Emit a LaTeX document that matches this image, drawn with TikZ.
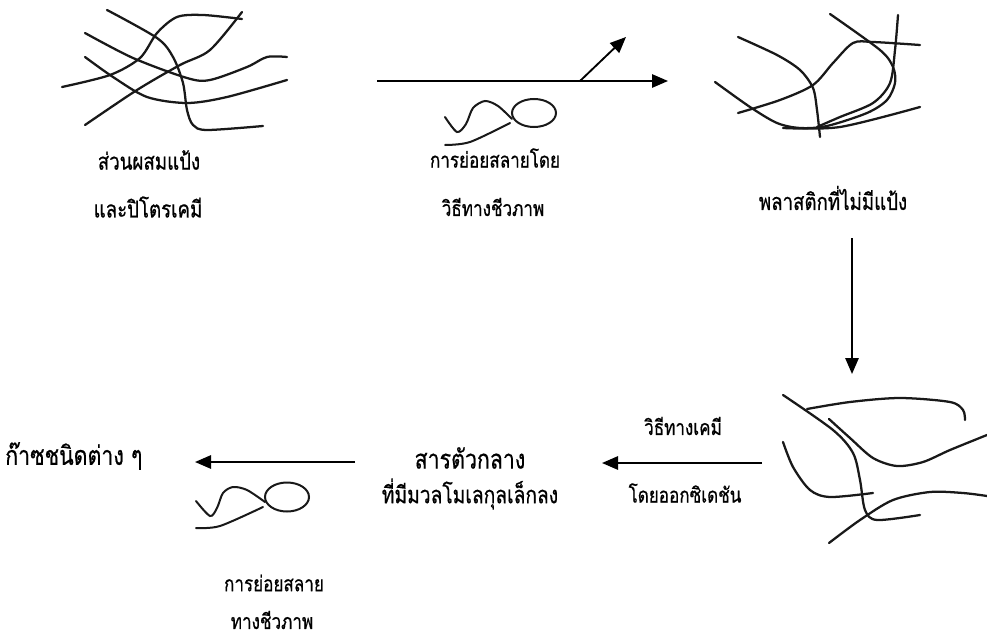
\documentclass[tikz,border=0pt]{standalone}
\usepackage{fontspec}
\newfontfamily\thaifont[Script=Thai,FakeStretch=0.8,FakeBold=0.6]{Loma}
\usetikzlibrary{arrows.meta}
\tikzset{
  fiber/.style={line width=1.7pt, line cap=round, black!90},
  microbe/.style={fiber, line width=1.5pt},
  flow/.style={line width=1.4pt, -{Triangle[length=12pt,width=10pt]}},
  lbl/.style={font=\thaifont\fontsize{16}{18}\selectfont, inner sep=0pt, anchor=center},
  midlbl/.style={font=\thaifont\fontsize{17.5}{20}\selectfont, inner sep=0pt, anchor=center},
  biglbl/.style={font=\thaifont\fontsize{20}{22}\selectfont, inner sep=0pt, anchor=center}
}
\begin{document}
\begin{tikzpicture}[x=0.75pt,y=-0.75pt]
\useasboundingbox (0,0) rectangle (987,638);
\fill[white] (0,0) rectangle (987,638);

% ---- starch + petrochemical blend (tangled chains)
\draw[fiber] plot[smooth] coordinates {(107,10) (157,38) (173,57) (183,83) (187,110) (193,125) (207,130) (263,126)};
\draw[fiber] plot[smooth] coordinates {(62,87) (110,75) (140,58) (157,33) (177,17) (203,15) (242,19)};
\draw[fiber] plot[smooth] coordinates {(85,125) (137,90) (180,65) (210,50) (242,12)};
\draw[fiber] plot[smooth] coordinates {(85,33) (133,58) (187,78) (210,80) (247,67) (267,57) (287,57)};
\draw[fiber] plot[smooth] coordinates {(85,57) (113,77) (147,97) (187,103) (227,97) (287,80)};

% ---- plastic without starch
\draw[fiber] plot[smooth] coordinates {(738,37) (777,55) (800,70) (813,88) (817,110) (820,137)};
\draw[fiber] plot[smooth] coordinates {(715,82) (750,107) (777,123) (800,128) (827,126) (867,113) (887,100) (895,83) (893,67) (880,50) (830,14)};
\draw[fiber] plot[smooth] coordinates {(738,113) (780,100) (813,85) (833,63) (853,43) (873,42) (920,45)};
\draw[fiber] plot[smooth] coordinates {(898,15) (895,50) (890,83) (873,103) (840,117) (817,127)};
\draw[fiber] plot[smooth] coordinates {(783,128) (840,127) (920,107)};

% ---- oxidised chains
\draw[fiber] plot[smooth] coordinates {(783,395) (833,430) (853,453) (860,480) (865,510) (877,520) (920,515)};
\draw[fiber] plot[smooth] coordinates {(807,409) (850,402) (900,398) (950,402) (963,410) (965,420)};
\draw[fiber] plot[smooth] coordinates {(829,419) (850,438) (873,458) (897,466) (923,462) (950,450) (987,435)};
\draw[fiber] plot[smooth] coordinates {(783,442) (793,467) (810,490) (830,497) (873,493)};
\draw[fiber] plot[smooth] coordinates {(829,543) (860,520) (893,500) (930,492) (963,493) (987,496)};

% ---- microbe symbols
\draw[microbe] plot[smooth] coordinates {(445,117) (457,132) (466,124) (473,108) (485,101) (498,106) (512,119)};
\draw[microbe] (534,113) ellipse [x radius=22, y radius=14];
\draw[microbe] plot[smooth] coordinates {(510,123) (470,142) (445,145)};

\draw[microbe] plot[smooth] coordinates {(196,501) (210,516) (217,508) (223,493) (233,487) (247,490) (265,502)};
\draw[microbe] (287,497) ellipse [x radius=22, y radius=14.5];
\draw[microbe] plot[smooth] coordinates {(263,507) (220,526) (196,528)};

% ---- arrow end points
\coordinate (a1s) at (377,81);
\coordinate (a1e) at (668,81);
\coordinate (a1b) at (580,81);
\coordinate (a1g) at (626,37);
\coordinate (a2s) at (852,238);
\coordinate (a2e) at (852,374);
\coordinate (a3s) at (762,463);
\coordinate (a3e) at (602,463);
\coordinate (a4s) at (355,462);
\coordinate (a4e) at (195,462);

\draw[flow] (a1s) -- (a1e);
\draw[flow] (a1b) -- (a1g);
\draw[flow] (a2s) -- (a2e);
\draw[flow] (a3s) -- (a3e);
\draw[flow] (a4s) -- (a4e);

% ---- labels
\node[midlbl] (t1a) at (149,160) {ส่วนผสมแป้ง};
\node[midlbl] (t1b) at (148,207) {และปิโตรเคมี};
\node[lbl] (t2a) at (495,158) {การย่อยสลายโดย};
\node[lbl] (t2b) at (493,207) {วิธีทางชีวภาพ};
\node[midlbl] (t3) at (833,198) {พลาสติกที่ไม่มีแป้ง};
\node[lbl] (t4a) at (683,426) {วิธีทางเคมี};
\node[lbl] (t4b) at (685,493) {โดยออกซิเดชัน};
\node[biglbl] (t5a) at (470,458) {สารตัวกลาง};
\node[biglbl, font=\thaifont\fontsize{18}{20}\selectfont] (t5b) at (470,494) {ที่มีมวลโมเลกุลเล็กลง};
\node[biglbl, anchor=west] (t6) at (5,456) {ก๊าซชนิดต่าง ๆ};
\node[lbl] (t7a) at (274,583) {การย่อยสลาย};
\node[lbl] (t7b) at (272,620) {ทางชีวภาพ};
\end{tikzpicture}
\end{document}
